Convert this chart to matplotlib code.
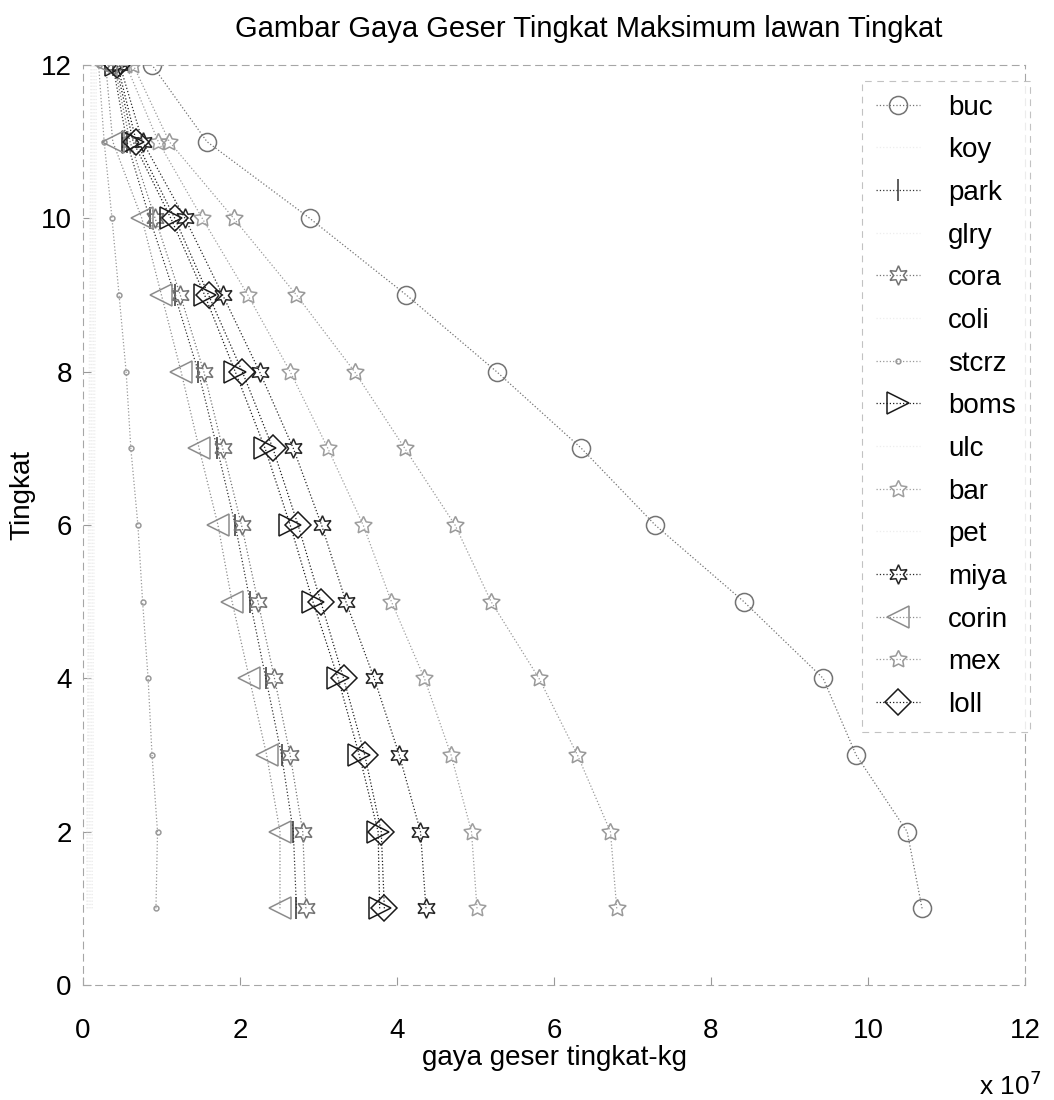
import matplotlib
matplotlib.use('Agg')
import matplotlib.pyplot as plt

plt.rcParams['font.family'] = ['Liberation Sans Narrow', 'Liberation Sans', 'DejaVu Sans']

# story number (tingkat) and max storey shear per record, in units of 1e7 kg
stories = [1, 2, 3, 4, 5, 6, 7, 8, 9, 10, 11, 12]

buc = [10.69, 10.50, 9.85, 9.43, 8.42, 7.29, 6.35, 5.27, 4.12, 2.89, 1.58, 0.88]
koy = [0.10, 0.10, 0.11, 0.11, 0.12, 0.12, 0.13, 0.13, 0.14, 0.14, 0.15, 0.15]
park = [2.72, 2.68, 2.53, 2.33, 2.13, 1.94, 1.71, 1.47, 1.17, 0.85, 0.56, 0.38]
glry = [0.08, 0.08, 0.09, 0.09, 0.10, 0.10, 0.11, 0.11, 0.12, 0.12, 0.13, 0.13]
cora = [2.84, 2.80, 2.64, 2.44, 2.23, 2.02, 1.78, 1.54, 1.24, 0.92, 0.60, 0.40]
coli = [0.06, 0.06, 0.07, 0.07, 0.08, 0.08, 0.09, 0.09, 0.10, 0.10, 0.11, 0.11]
stcrz = [0.93, 0.95, 0.88, 0.83, 0.76, 0.70, 0.61, 0.55, 0.46, 0.37, 0.27, 0.20]
boms = [3.78, 3.76, 3.52, 3.25, 2.93, 2.64, 2.32, 1.94, 1.55, 1.12, 0.64, 0.42]
ulc = [0.12, 0.12, 0.13, 0.13, 0.14, 0.14, 0.15, 0.15, 0.16, 0.16, 0.17, 0.17]
bar = [5.02, 4.95, 4.69, 4.35, 3.93, 3.57, 3.12, 2.64, 2.10, 1.52, 0.96, 0.55]
pet = [0.05, 0.05, 0.06, 0.06, 0.07, 0.07, 0.08, 0.08, 0.09, 0.09, 0.10, 0.10]
miya = [4.37, 4.30, 4.03, 3.71, 3.35, 3.04, 2.68, 2.25, 1.78, 1.30, 0.76, 0.47]
corin = [2.51, 2.51, 2.34, 2.12, 1.90, 1.72, 1.48, 1.25, 1.00, 0.75, 0.38, 0.29]
mex = [6.80, 6.72, 6.30, 5.81, 5.20, 4.74, 4.10, 3.46, 2.72, 1.92, 1.10, 0.64]
loll = [3.84, 3.80, 3.59, 3.32, 3.03, 2.74, 2.42, 2.03, 1.60, 1.17, 0.68, 0.44]

star6 = (6, 1, 0)
star5 = (5, 1, 0)

# label, data, marker, colour, markersize
series = [
    ('buc', buc, 'o', '0.45', 13),
    ('koy', koy, 'None', '0.93', 10),
    ('park', park, '|', '0.2', 16),
    ('glry', glry, 'None', '0.93', 10),
    ('cora', cora, star6, '0.45', 14),
    ('coli', coli, 'None', '0.93', 10),
    ('stcrz', stcrz, '.', '0.6', 7),
    ('boms', boms, '>', '0.1', 16),
    ('ulc', ulc, 'None', '0.93', 10),
    ('bar', bar, star5, '0.62', 13),
    ('pet', pet, 'None', '0.93', 10),
    ('miya', miya, star6, '0.15', 14),
    ('corin', corin, '<', '0.55', 16),
    ('mex', mex, star5, '0.6', 13),
    ('loll', loll, 'D', '0.1', 13),
]

fig = plt.figure(figsize=(10.54, 11.0), dpi=100)
ax = fig.add_axes([0.0787, 0.1045, 0.8937, 0.8364])

for name, vals, mk, col, ms in series:
    ax.plot(vals, stories, linestyle=':', linewidth=0.9, color=col,
            marker=mk, markersize=ms, markerfacecolor='none',
            markeredgecolor=col, markeredgewidth=1.1, label=name)

ax.set_xlim(0, 12)
ax.set_ylim(0, 12)
ax.set_xticks([0, 2, 4, 6, 8, 10, 12])
ax.set_yticks([0, 2, 4, 6, 8, 10, 12])
ax.tick_params(direction='in', length=6, color='0.6', labelsize=20)
ax.tick_params(axis='x', pad=24)
ax.tick_params(axis='y', pad=8)
for sp in ax.spines.values():
    sp.set_color('0.65')
    sp.set_linewidth(0.8)
    sp.set_linestyle((0, (6, 5)))

leg = ax.legend(loc='upper left', bbox_to_anchor=(0.827, 0.983), fontsize=20,
                frameon=True, fancybox=False, edgecolor='0.7',
                labelspacing=0.6, handlelength=1.6, handletextpad=1.0,
                borderpad=0.5, borderaxespad=0)
leg.get_frame().set_linewidth(0.8)
leg.get_frame().set_linestyle((0, (6, 5)))

fig.text(0.559, 0.974, 'Gambar Gaya Geser Tingkat Maksimum lawan Tingkat',
         ha='center', va='center', fontsize=21)
fig.text(0.526, 0.038, 'gaya geser tingkat-kg', ha='center', va='center', fontsize=20)
fig.text(0.021, 0.55, 'Tingkat', ha='center', va='center', rotation=90, fontsize=20)
fig.text(0.958, 0.013, r'x 10$^7$', ha='center', va='center', fontsize=19)

plt.savefig('out.png', dpi=100)
plt.close()
